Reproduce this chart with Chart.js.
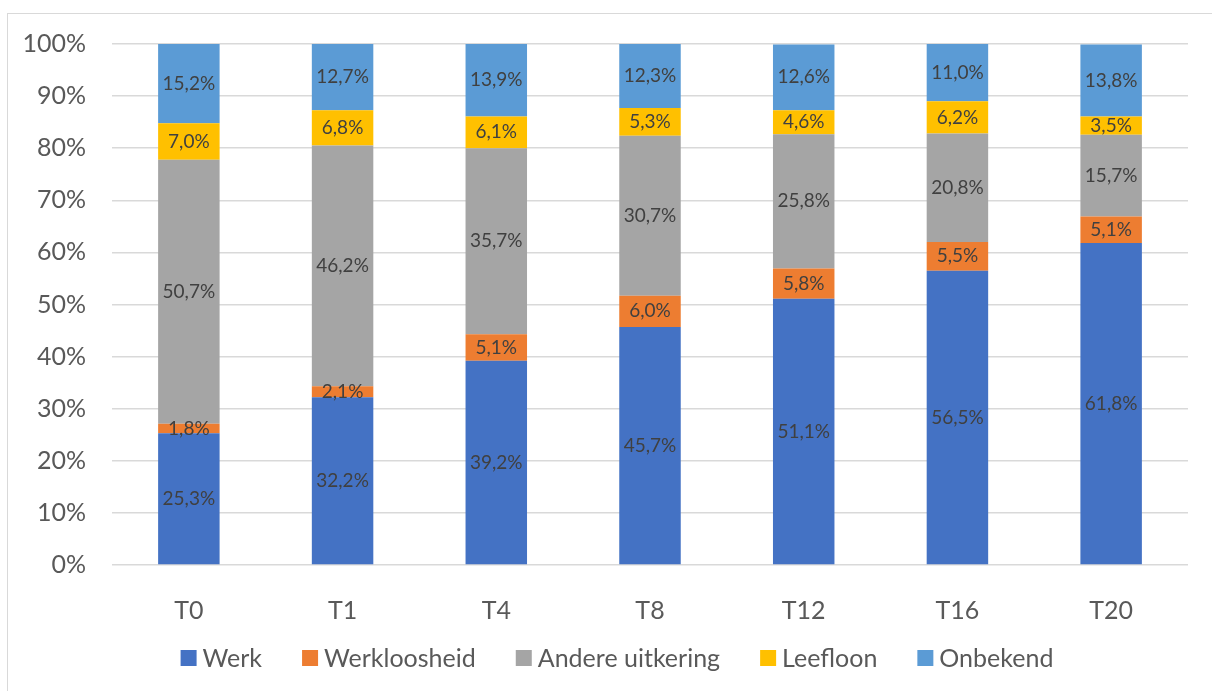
<!DOCTYPE html>
<html>
<head>
<meta charset="utf-8">
<script src="https://cdn.jsdelivr.net/npm/chart.js@4"></script>
<style>
  html, body { margin: 0; padding: 0; background: #fff; overflow: hidden; }
  .frame { position: absolute; left: 7px; top: 13px; width: 1300px; height: 800px; border: 1px solid #d9d9d9; }
  .wrap { position: absolute; left: 0; top: 0; width: 1212px; height: 691px; }
</style>
</head>
<body>
<div class="frame"></div>
<div class="wrap"><canvas id="chart"></canvas></div>
<script>
// ── DATA ────────────────────────────────────────────────────
const categories = ['T0', 'T1', 'T4', 'T8', 'T12', 'T16', 'T20'];
const werk        = [25.3, 32.2, 39.2, 45.7, 51.1, 56.5, 61.8];
const werkloos    = [1.8, 2.1, 5.1, 6.0, 5.8, 5.5, 5.1];
const andere      = [50.7, 46.2, 35.7, 30.7, 25.8, 20.8, 15.7];
const leefloon    = [7.0, 6.8, 6.1, 5.3, 4.6, 6.2, 3.5];
const onbekend    = [15.2, 12.7, 13.9, 12.3, 12.6, 11.0, 13.8];
const seriesNames = ['Werk', 'Werkloosheid', 'Andere uitkering', 'Leefloon', 'Onbekend'];
const yTicks      = [0, 10, 20, 30, 40, 50, 60, 70, 80, 90, 100];

const colors = ['#4472C4', '#ED7D31', '#A5A5A5', '#FFC000', '#5B9BD5'];
const FONT = 'Lato, "Open Sans", sans-serif';
const TEXT = '#595959';

// ── DATA LABELS (inline plugin) ─────────────────────────────
const fmt = v => v.toFixed(1).replace('.', ',') + '%';
const barLabels = {
  id: 'barLabels',
  afterDatasetsDraw(chart) {
    const { ctx } = chart;
    ctx.save();
    ctx.font = '19px ' + FONT;
    ctx.fillStyle = '#404040';
    ctx.textAlign = 'center';
    ctx.textBaseline = 'middle';
    chart.data.datasets.forEach((ds, i) => {
      chart.getDatasetMeta(i).data.forEach((bar, j) => {
        const p = bar.getProps(['x', 'y', 'base'], true);
        ctx.fillText(fmt(ds.data[j]), p.x, (p.y + p.base) / 2);
      });
    });
    ctx.restore();
  }
};

// ── LEGEND (drawn in the bottom padding, Excel spacing) ─────
const bottomLegend = {
  id: 'bottomLegend',
  afterDraw(chart) {
    const { ctx } = chart;
    const box = 16, boxGap = 6, itemGap = 40, cy = 658, cx = 617;
    ctx.save();
    ctx.font = '25px ' + FONT;
    ctx.textBaseline = 'middle';
    const items = chart.data.datasets.map(ds => ({
      label: ds.label, color: ds.backgroundColor, w: box + boxGap + ctx.measureText(ds.label).width
    }));
    const total = items.reduce((s, it) => s + it.w, 0) + itemGap * (items.length - 1);
    let x = cx - total / 2;
    items.forEach(it => {
      ctx.fillStyle = it.color;
      ctx.fillRect(x, cy - box / 2, box, box);
      ctx.fillStyle = TEXT;
      ctx.fillText(it.label, x + box + boxGap, cy + 1);
      x += it.w + itemGap;
    });
    ctx.restore();
  }
};

const seriesData = [werk, werkloos, andere, leefloon, onbekend];

new Chart(document.getElementById('chart'), {
  type: 'bar',
  data: {
    labels: categories,
    datasets: seriesNames.map((name, i) => ({
      label: name,
      data: seriesData[i],
      backgroundColor: colors[i],
      borderWidth: 0,
      categoryPercentage: 1,
      barPercentage: 0.4,
    }))
  },
  options: {
    responsive: true,
    maintainAspectRatio: false,
    animation: false,
    layout: { padding: { top: 44, right: 24, left: 18, bottom: 66 } },
    plugins: {
      legend: { display: false },
      tooltip: { enabled: false }
    },
    scales: {
      x: {
        stacked: true,
        grid: { display: false },
        border: { display: false },
        ticks: { color: TEXT, font: { family: FONT, size: 25 }, padding: 23 },
        afterFit: axis => { axis.height = 60; }
      },
      y: {
        stacked: true,
        min: 0,
        max: 100,
        afterBuildTicks: axis => { axis.ticks = yTicks.map(v => ({ value: v })); },
        grid: { color: '#d9d9d9', lineWidth: 1.5, drawTicks: false },
        border: { display: false },
        ticks: { color: TEXT, font: { family: FONT, size: 25 }, padding: 26, callback: v => v + '%' },
        afterFit: axis => { axis.width = 94; }
      }
    }
  },
  plugins: [barLabels, bottomLegend]
});
</script>
</body>
</html>
